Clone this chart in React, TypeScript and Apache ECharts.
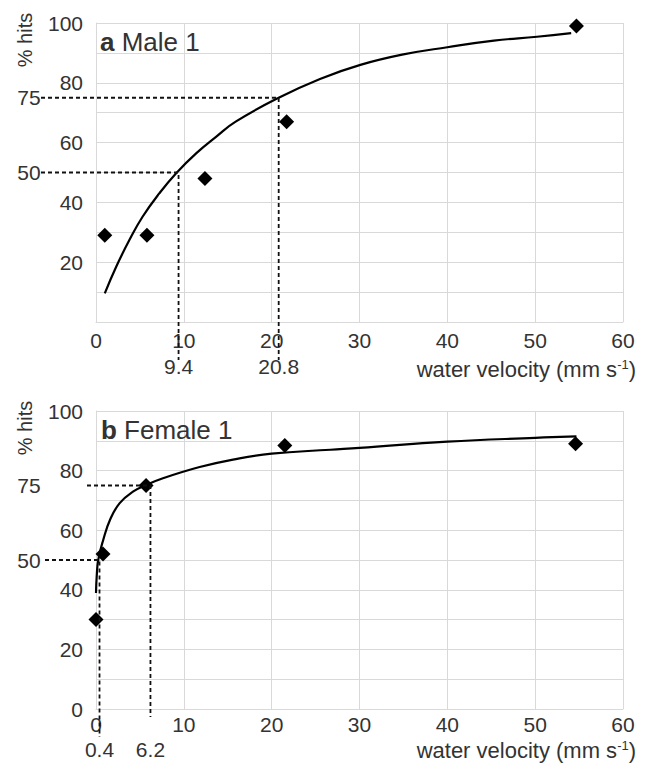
import React, { useEffect, useRef } from "react";
import * as echarts from "echarts";

// Panel a: Male 1
const maleX = [1, 5.8, 12.4, 21.7, 54.7];
const maleY = [29, 29, 48, 67, 99];
const maleCurveX = [1, 2.3, 3.8, 5.3, 7.2, 9.1, 11.4, 13.7, 15.9, 20.8, 25.5, 30.1, 35, 40, 45.3, 50.2, 54.1];
const maleCurveY = [9.6, 18.5, 27.4, 35.2, 43, 49.7, 56.4, 62, 67, 75, 81.3, 86, 89.5, 91.9, 94.1, 95.4, 96.6];
const maleLevels = [50, 75];
const maleLevelX = [9.4, 20.8];
const maleLevelLabels = ["9.4", "20.8"];

// Panel b: Female 1
const femaleX = [0, 0.8, 5.7, 21.5, 54.6];
const femaleY = [30, 52, 75, 88.4, 89];
const femaleCurveX = [0, 0.08, 0.26, 0.83, 1.6, 2.7, 4.25, 5.6, 7.7, 11.8, 15.6, 20, 26.7, 30, 40, 50, 54.7];
const femaleCurveY = [38.9, 44.5, 50.1, 56.8, 63.5, 69.1, 73, 75, 77.5, 81.2, 83.7, 85.7, 87, 87.6, 89.7, 91, 91.5];
const femaleLevels = [50, 75];
const femaleLevelX = [0.4, 6.2];
const femaleLevelLabels = ["0.4", "6.2"];

const titles = ["Male 1", "Female 1"];
const panelLetters = ["a", "b"];
const yName = "% hits";

const FONT = "Liberation Sans, Arial, sans-serif";
const TXT = "#333333";
const GRID = "#d9d9d9";

const zip = (xs: number[], ys: number[]) => xs.map((x, i) => [x, ys[i]]);

export default function App() {
  const ref = useRef<HTMLDivElement>(null);

  useEffect(() => {
    if (!ref.current) return;
    const chart = echarts.init(ref.current, undefined, { renderer: "svg" });

    const grids = [
      { left: 96, top: 23, width: 527, height: 299 },
      { left: 96, top: 411, width: 527, height: 298 },
    ];

    const xAxis = [0, 1].map((i) => ({
      type: "value",
      gridIndex: i,
      min: 0,
      max: 60,
      interval: 10,
      axisLine: { show: true, lineStyle: { color: GRID, width: 1 } },
      axisTick: { show: false },
      splitLine: { show: true, lineStyle: { color: GRID, width: 1 } },
      axisLabel: { color: TXT, fontSize: 21, fontFamily: FONT, margin: i === 0 ? 8 : 5 },
    }));

    const yAxis = [0, 1].map((i) => ({
      type: "value",
      gridIndex: i,
      min: 0,
      max: 100,
      interval: 20,
      minorTick: { show: false, splitNumber: 2 },
      minorSplitLine: { show: true, lineStyle: { color: GRID, width: 1 } },
      axisLine: { show: true, lineStyle: { color: GRID, width: 1 } },
      axisTick: { show: false },
      splitLine: { show: true, lineStyle: { color: GRID, width: 1 } },
      axisLabel: {
        color: TXT,
        fontSize: 21,
        fontFamily: FONT,
        margin: 13,
        showMinLabel: i === 1,
      },
    }));

    const curve = (idx: number, data: number[][]) => ({
      type: "line",
      xAxisIndex: idx,
      yAxisIndex: idx,
      data,
      smooth: 0.45,
      showSymbol: false,
      symbol: "none",
      lineStyle: { color: "#000", width: 2.2 },
      z: 3,
    });
    const points = (idx: number, data: number[][]) => ({
      type: "scatter",
      xAxisIndex: idx,
      yAxisIndex: idx,
      data,
      symbol: "diamond",
      symbolSize: 15,
      itemStyle: { color: "#000", opacity: 1 },
      z: 4,
    });

    chart.setOption({
      animation: false,
      grid: grids,
      xAxis,
      yAxis,
      series: [
        curve(0, zip(maleCurveX, maleCurveY)),
        curve(1, zip(femaleCurveX, femaleCurveY)),
        points(0, zip(maleX, maleY)),
        points(1, zip(femaleX, femaleY)),
      ],
    });

    const px = (g: number, x: number, y: number) =>
      chart.convertToPixel({ gridIndex: g }, [x, y]) as number[];

    const graphics: any[] = [];
    const dashStyle = { stroke: "#111", lineWidth: 1.8, lineDash: [4, 3], fill: null };

    const panelDefs = [
      {
        g: 0,
        levels: maleLevels,
        levelX: maleLevelX,
        labels: maleLevelLabels,
        hStart: [41, 41],
        vEnd: [360, 360],
        xLabelY: 366,
        titleY: 42,
        titleX: 100,
        yNameY: 40,
        xNameY: 369,
      },
      {
        g: 1,
        levels: femaleLevels,
        levelX: femaleLevelX,
        labels: femaleLevelLabels,
        hStart: [45, 87],
        vEnd: [737, 717],
        xLabelY: 749,
        titleY: 430,
        titleX: 101,
        yNameY: 428,
        xNameY: 750,
      },
    ];

    panelDefs.forEach((p, pi) => {
      p.levels.forEach((lv, k) => {
        const pt = px(p.g, p.levelX[k], lv);
        graphics.push({
          type: "polyline",
          z: 5,
          shape: {
            points: [
              [p.hStart[k], pt[1]],
              [pt[0], pt[1]],
              [pt[0], p.vEnd[k]],
            ],
          },
          style: dashStyle,
        });
        graphics.push({
          type: "text",
          x: 29,
          y: pt[1],
          z: 6,
          style: {
            text: String(lv),
            fontSize: 21,
            fontFamily: FONT,
            fill: TXT,
            align: "center",
            verticalAlign: "middle",
          },
        });
        graphics.push({
          type: "text",
          x: pt[0],
          y: p.xLabelY,
          z: 6,
          style: {
            text: p.labels[k],
            fontSize: 21,
            fontFamily: FONT,
            fill: TXT,
            align: "center",
            verticalAlign: "middle",
          },
        });
      });
      graphics.push({
        type: "text",
        x: p.titleX,
        y: p.titleY,
        z: 6,
        style: {
          text: "{b|" + panelLetters[pi] + "} " + titles[pi],
          fontSize: 26,
          fontFamily: FONT,
          fill: TXT,
          verticalAlign: "middle",
          rich: {
            b: { fontSize: 26, fontWeight: "bold", fontFamily: FONT, fill: TXT },
          },
        },
      });
      graphics.push({
        type: "text",
        x: 25,
        y: p.yNameY,
        rotation: Math.PI / 2,
        z: 6,
        style: {
          text: yName,
          fontSize: 20,
          fontFamily: FONT,
          fill: TXT,
          align: "center",
          verticalAlign: "middle",
        },
      });
      graphics.push({
        type: "text",
        x: 636,
        y: p.xNameY,
        z: 6,
        style: {
          text: "{n|water velocity (mm s}{s|-1}{n|)}",
          fontFamily: FONT,
          fill: TXT,
          align: "right",
          verticalAlign: "middle",
          rich: {
            n: { fontSize: 22, fontFamily: FONT, fill: TXT, lineHeight: 22, verticalAlign: "bottom" },
            s: { fontSize: 13, fontFamily: FONT, fill: TXT, lineHeight: 22, verticalAlign: "top" },
          },
        },
      });
    });

    chart.setOption({ graphic: graphics });

    return () => chart.dispose();
  }, []);

  return (
    <div
      ref={ref}
      style={{ position: "absolute", left: 0, top: 0, width: 646, height: 763, background: "#fff" }}
    />
  );
}
